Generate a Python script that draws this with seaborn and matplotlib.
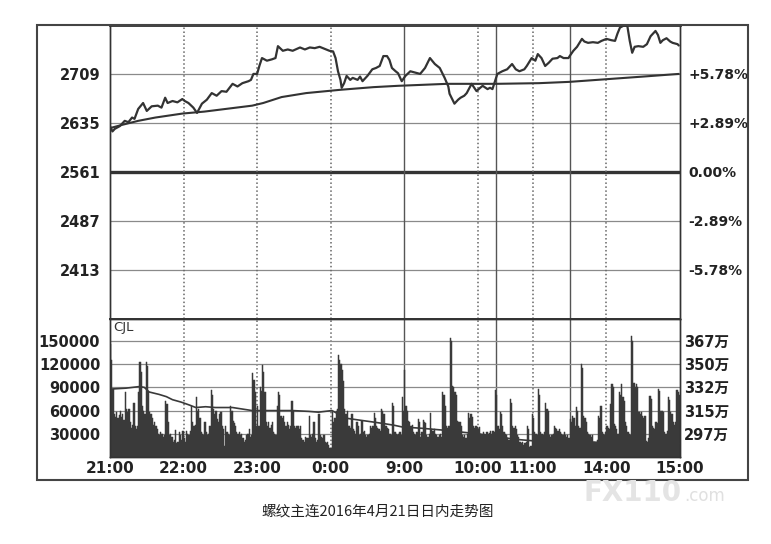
import numpy as np
import matplotlib
matplotlib.use("Agg")
import matplotlib.pyplot as plt
import seaborn as sns
from matplotlib.patches import Rectangle

sns.set_theme(style="white")
plt.rcParams["font.family"] = ["DejaVu Sans", "Noto Sans CJK SC"]

# ---------------- data ----------------
# minutes since 21:00 on a trading-time axis (night 21:00-1:00, 9:00-10:15, 10:30-11:30, 13:30-15:00)
price_min = [0, 2, 4, 8, 12, 15, 18, 20, 23, 27, 30, 34, 39, 42, 45, 47, 51, 55, 59, 61,
             64, 68, 71, 75, 79, 83, 87, 91, 95, 100, 104, 108, 113, 115, 117, 120, 122, 124, 128, 132,
             135, 137, 141, 145, 149, 155, 159, 163, 167, 171, 175, 179, 182, 184, 186, 188, 189, 191, 193, 196,
             198, 202, 204, 206, 210, 214, 217, 220, 223, 226, 228, 230, 233, 235, 238, 241, 245, 249, 253, 257,
             261, 265, 269, 273, 276, 277, 280, 281, 284, 286, 289, 291, 295, 299, 302, 304, 308, 310, 312, 316,
             320, 324, 328, 331, 334, 338, 340, 344, 347, 349, 352, 353, 355, 358, 361, 365, 367, 370, 374, 375,
             378, 381, 385, 387, 390, 394, 398, 401, 405, 409, 412, 414, 416, 419, 422, 424, 426, 428, 431, 435,
             438, 441, 445, 447, 449, 451, 454, 457, 459, 463, 464]
price_val = [2630, 2622, 2626, 2630, 2638, 2636, 2643, 2641, 2656, 2665, 2653, 2660, 2661, 2658, 2673, 2665, 2668, 2666, 2671, 2668,
             2665, 2658, 2650, 2664, 2670, 2680, 2676, 2683, 2682, 2694, 2690, 2695, 2698, 2700, 2709, 2709, 2722, 2733, 2729, 2731,
             2733, 2751, 2744, 2746, 2744, 2749, 2746, 2749, 2748, 2750, 2747, 2744, 2743, 2733, 2713, 2700, 2688, 2695, 2706, 2700,
             2703, 2700, 2705, 2698, 2706, 2716, 2718, 2721, 2736, 2736, 2730, 2718, 2713, 2710, 2698, 2706, 2713, 2711, 2709, 2718,
             2733, 2724, 2718, 2703, 2690, 2679, 2668, 2664, 2670, 2673, 2676, 2680, 2694, 2683, 2688, 2691, 2686, 2688, 2686, 2709,
             2713, 2716, 2724, 2716, 2713, 2716, 2721, 2733, 2729, 2739, 2733, 2729, 2721, 2726, 2732, 2733, 2736, 2733, 2733, 2736,
             2744, 2750, 2762, 2758, 2756, 2757, 2756, 2759, 2762, 2760, 2759, 2770, 2779, 2782, 2782, 2759, 2741, 2750, 2751, 2750,
             2754, 2766, 2774, 2768, 2756, 2760, 2763, 2758, 2756, 2754, 2752]

avg_min = [0, 10, 23, 37, 59, 77, 116, 125, 140, 160, 188, 215, 235, 275, 315, 350, 375, 405, 435, 464]
avg_val = [2627, 2632, 2638, 2643, 2649, 2652, 2661, 2665, 2674, 2680, 2685, 2689, 2691, 2694, 2694, 2695, 2697, 2701, 2705, 2709]

# volume per minute, in thousands of lots
vol_k = [146, 126, 88, 55, 52, 58, 50, 54, 60, 52, 55, 48, 84, 62, 58,
         62, 45, 38, 42, 70, 40, 36, 40, 84, 123, 110, 66, 60, 55, 123,
         118, 84, 58, 55, 50, 42, 45, 40, 36, 30, 28, 32, 30, 26, 28,
         73, 68, 45, 28, 30, 26, 19, 22, 35, 18, 20, 32, 28, 22, 34,
         24, 20, 34, 30, 28, 34, 66, 45, 40, 42, 77, 60, 62, 50, 32,
         30, 28, 45, 32, 28, 30, 40, 86, 80, 62, 55, 60, 49, 45, 55,
         58, 40, 36, 14, 40, 32, 30, 28, 66, 60, 47, 44, 40, 32, 30,
         32, 28, 30, 24, 20, 22, 28, 30, 36, 26, 28, 109, 100, 84, 40,
         66, 40, 90, 85, 119, 110, 84, 45, 40, 45, 38, 42, 45, 32, 30,
         28, 66, 84, 80, 53, 50, 53, 45, 40, 45, 42, 36, 40, 73, 60,
         40, 38, 40, 40, 36, 40, 25, 22, 20, 26, 24, 25, 53, 28, 26,
         30, 45, 24, 20, 22, 56, 28, 26, 24, 28, 19, 18, 20, 16, 12,
         11, 58, 45, 50, 60, 62, 132, 125, 120, 112, 98, 62, 55, 60, 40,
         40, 38, 56, 36, 34, 30, 45, 40, 28, 30, 47, 32, 34, 28, 26,
         28, 30, 40, 38, 40, 57, 50, 40, 38, 36, 34, 62, 60, 55, 40,
         40, 38, 36, 30, 28, 70, 66, 32, 30, 28, 30, 32, 28, 77, 60,
         113, 66, 60, 47, 45, 40, 42, 32, 30, 28, 32, 49, 45, 26, 32,
         48, 45, 44, 28, 26, 30, 57, 36, 34, 36, 30, 28, 26, 28, 30,
         26, 84, 80, 66, 40, 38, 40, 154, 150, 92, 90, 84, 80, 47, 45,
         45, 40, 28, 26, 28, 24, 30, 57, 50, 56, 52, 40, 38, 40, 39,
         36, 39, 30, 28, 32, 30, 28, 32, 30, 31, 34, 30, 34, 32, 86,
         80, 40, 36, 58, 55, 40, 32, 30, 28, 24, 22, 75, 70, 40, 38,
         40, 36, 28, 26, 19, 18, 20, 16, 18, 19, 40, 36, 13, 14, 56,
         50, 32, 30, 28, 88, 80, 32, 30, 28, 32, 70, 62, 60, 28, 26,
         28, 30, 40, 38, 36, 34, 36, 32, 30, 28, 32, 28, 26, 28, 24,
         49, 45, 53, 50, 40, 64, 60, 40, 38, 120, 115, 53, 50, 45, 32,
         30, 28, 26, 28, 19, 20, 18, 22, 53, 50, 66, 32, 30, 28, 32,
         40, 38, 36, 68, 94, 90, 43, 40, 36, 30, 84, 80, 94, 77, 72,
         45, 40, 32, 30, 28, 156, 150, 96, 90, 94, 90, 58, 55, 58, 53,
         50, 53, 21, 20, 24, 79, 75, 40, 38, 36, 45, 44, 88, 85, 60,
         60, 58, 32, 30, 34, 77, 74, 58, 55, 45, 42, 45, 86, 84, 80]

# open interest (万手)
oi_min = [2, 13, 24, 28, 32, 40, 46, 51, 58, 65, 70, 78, 86, 100, 116, 133, 149, 162, 170, 181,
          193, 202, 216, 224, 232, 238, 255, 270, 300, 330, 345, 375, 420, 464]
oi_val = [330.8, 331.4, 332.6, 332.0, 328.5, 326.7, 325.0, 322.7, 320.9, 318.6, 316.8, 317.4, 316.8, 316.8,
          314.5, 314.5, 314.5, 313.9, 313.3, 314.5, 308.7, 307.5, 305.7, 304.6, 303.4, 302.2, 301.1, 299.9,
          297.0, 292.9, 291.7, 291.2, 290.0, 289.4]

time_ticks = [0, 60, 120, 180, 240, 300, 345, 405, 465]
time_labels = ["21:00", "22:00", "23:00", "0:00", "9:00", "10:00", "11:00", "14:00", "15:00"]
session_breaks = [240, 315, 375]
hour_marks = [60, 120, 180, 300, 345, 405]

base_price = 2561
price_ticks = [2413, 2487, 2561, 2635, 2709]
pct_labels = ["-5.78%", "-2.89%", "0.00%", "+2.89%", "+5.78%"]
vol_ticks = [30000, 60000, 90000, 120000, 150000]
vol_labels = ["30000", "60000", "90000", "120000", "150000"]
oi_ticks = [297, 314.5, 332, 349.5, 367]
oi_labels = ["297万", "315万", "332万", "350万", "367万"]

caption = "螺纹主连2016年4月21日日内走势图"

# ---------------- figure ----------------
W, H = 771, 544
fig = plt.figure(figsize=(W / 100, H / 100), dpi=100)
fig.patch.set_facecolor("white")

L, R = 110, 680
T, MID, B = 25, 318.5, 457
ax1 = fig.add_axes([L / W, 1 - MID / H, (R - L) / W, (MID - T) / H])
ax2 = fig.add_axes([L / W, 1 - B / H, (R - L) / W, (B - MID) / H], sharex=ax1)

DARK = "#333333"
BAR = "#3a3a3a"
GRID = "#8a8a8a"
lab_kw = dict(fontsize=10.5, fontweight="bold", color="#222222")

# price panel
ax1.set_xlim(0, 465)
ax1.set_ylim(base_price - 222, base_price + 222)
for p in price_ticks:
    if p == base_price:
        ax1.axhline(p, color=DARK, lw=2.4, zorder=1)
    else:
        ax1.axhline(p, color=GRID, lw=0.9, zorder=1)
for m in session_breaks:
    ax1.axvline(m, color="#555555", lw=1.0, zorder=1)
    ax2.axvline(m, color="#555555", lw=1.0, zorder=1)
for m in hour_marks:
    ax1.axvline(m, color="#666666", lw=1.1, ls=(0, (1, 1.6)), zorder=1)
    ax2.axvline(m, color="#666666", lw=1.1, ls=(0, (1, 1.6)), zorder=1)

sns.lineplot(x=avg_min, y=avg_val, ax=ax1, color=DARK, lw=1.5, zorder=3)
sns.lineplot(x=price_min, y=price_val, ax=ax1, color=DARK, lw=1.6, zorder=4)

ax1.set_yticks(price_ticks)
ax1.set_yticklabels([str(p) for p in price_ticks], **lab_kw)
ax1.tick_params(axis="y", length=0, pad=7)
ax1.tick_params(axis="x", length=0, labelbottom=False)
ax1.set_xlabel("")
ax1.set_ylabel("")

ax1r = ax1.twinx()
ax1r.set_ylim(ax1.get_ylim())
ax1r.set_yticks(price_ticks)
ax1r.set_yticklabels(pct_labels, fontsize=10, fontweight="bold", color="#222222")
ax1r.tick_params(axis="y", length=0, pad=6)

for a in (ax1, ax1r):
    for s in a.spines.values():
        s.set_color(DARK)
        s.set_linewidth(1.0)
ax1.spines["top"].set_linewidth(2.0)

# volume panel
ax2.set_ylim(0, 179000)
for v in vol_ticks:
    ax2.axhline(v, color=GRID, lw=0.9, zorder=1)
minutes = np.arange(len(vol_k))
ax2.bar(minutes, np.array(vol_k) * 1000, width=1.0, align="edge",
        color=BAR, edgecolor=BAR, linewidth=0.35, zorder=2)

ax2r = ax2.twinx()
ax2r.set_ylim(279.5, 279.5 + 179 * 70 / 120)
sns.lineplot(x=oi_min, y=oi_val, ax=ax2r, color=BAR, lw=1.2, zorder=3)
ax2r.set_yticks(oi_ticks)
ax2r.set_yticklabels(oi_labels, fontsize=10.5, fontweight="bold", color="#222222",
                     family=["DejaVu Sans", "Noto Sans CJK SC"])
ax2r.tick_params(axis="y", length=0, pad=3)
ax2r.set_ylabel("")

ax2.set_yticks(vol_ticks)
ax2.set_yticklabels(vol_labels, **lab_kw)
ax2.tick_params(axis="y", length=0, pad=7)
ax2.set_xticks(time_ticks)
ax2.set_xticklabels(time_labels, fontsize=11, fontweight="bold", color="#222222")
ax2.tick_params(axis="x", length=0, pad=3)
ax2.set_xlim(0, 465)
ax2.set_xlabel("")
ax2.set_ylabel("")
ax2.text(0.006, 0.985, "CJL", transform=ax2.transAxes, ha="left", va="top",
         fontsize=9.5, color=DARK, zorder=5)
for a in (ax2, ax2r):
    for s in a.spines.values():
        s.set_color(DARK)
        s.set_linewidth(1.0)
ax2.spines["top"].set_linewidth(1.4)

# outer frame
fig.add_artist(Rectangle((37 / W, 1 - 480 / H), (748 - 37) / W, (480 - 25) / H,
                         transform=fig.transFigure, fill=False, lw=1.5, ec="#444444"))

# watermark
fig.text(633 / W, 1 - 493 / H, "FX110", ha="center", va="center", fontsize=20,
         fontweight="bold", color="#e4e4e4")
fig.text(684 / W, 1 - 496 / H, ".com", ha="left", va="center", fontsize=12,
         color="#e0e0e0")

# caption
fig.text(378 / W, 1 - 512 / H, caption, ha="center", va="center", fontsize=10.5,
         color="#222222", family=["Noto Sans CJK SC", "DejaVu Sans"])

fig.savefig("out.png", dpi=100, facecolor="white")
